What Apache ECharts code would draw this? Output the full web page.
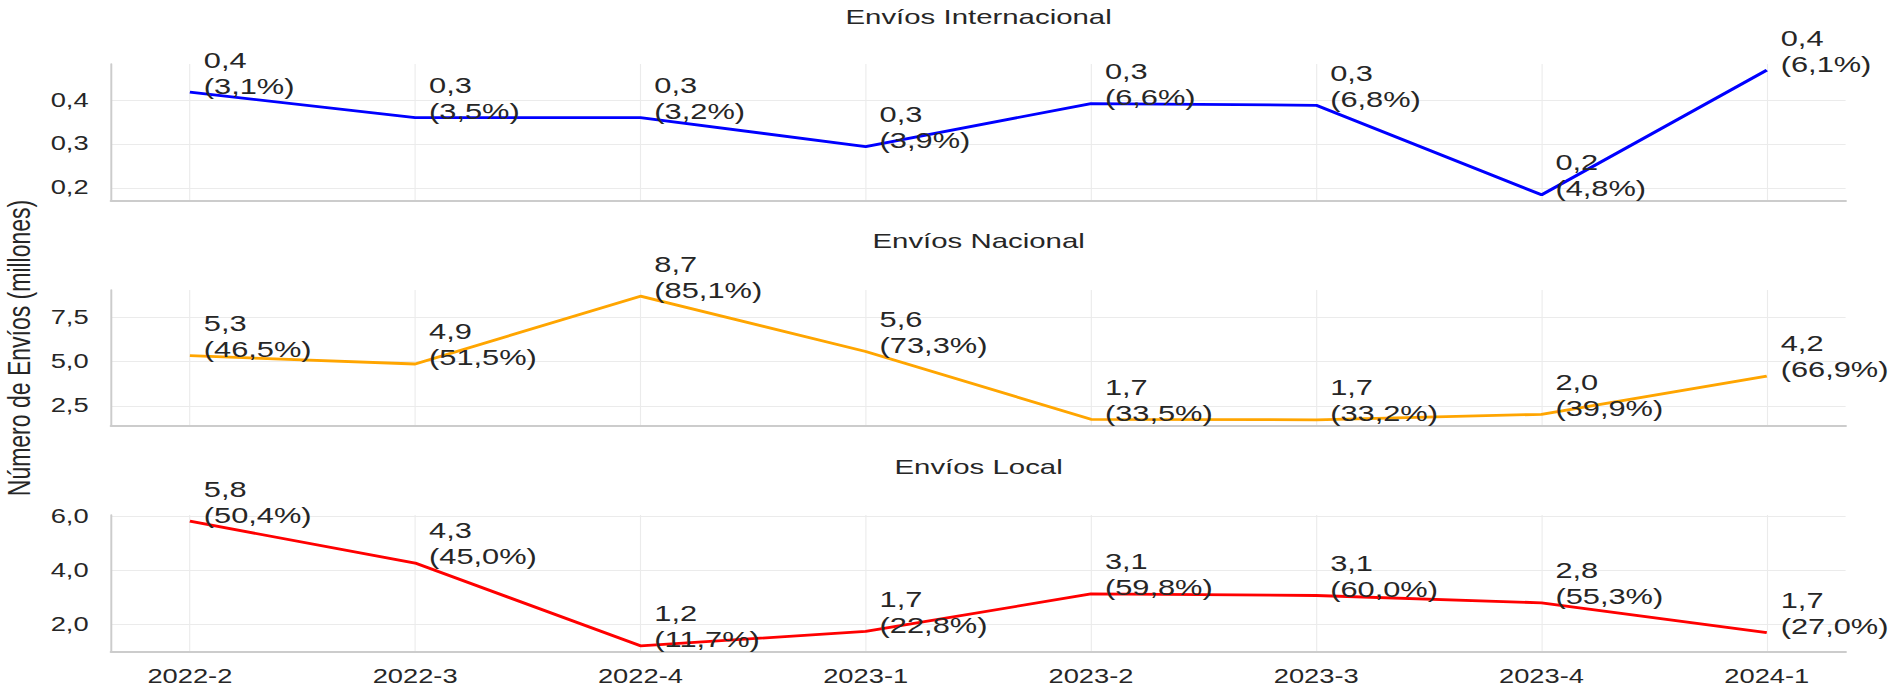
<!DOCTYPE html>
<html>
<head>
<meta charset="utf-8">
<script src="https://cdn.jsdelivr.net/npm/echarts@6/dist/echarts.min.js"></script>
<style>
  html, body { margin: 0; padding: 0; background: #fff; overflow: hidden; }
  /* la figura original está estirada en horizontal */
  #chart { width: 1357px; height: 690px; transform: scaleX(1.4); transform-origin: 0 0; }
</style>
</head>
<body>
<div id="chart"></div>
<script>
// datos por trimestre (millones de envíos)
const trimestres = ['2022-2', '2022-3', '2022-4', '2023-1', '2023-2', '2023-3', '2023-4', '2024-1'];

const enviosInternacional = [0.359, 0.330, 0.330, 0.297, 0.346, 0.344, 0.242, 0.384];
const enviosNacional = [5.34, 4.87, 8.71, 5.58, 1.74, 1.71, 2.02, 4.19];
const enviosLocal = [5.81, 4.26, 1.20, 1.73, 3.12, 3.06, 2.79, 1.69];

// porcentaje sobre el total del trimestre
const pctInternacional = [3.1, 3.5, 3.2, 3.9, 6.6, 6.8, 4.8, 6.1];
const pctNacional = [46.5, 51.5, 85.1, 73.3, 33.5, 33.2, 39.9, 66.9];
const pctLocal = [50.4, 45.0, 11.7, 22.8, 59.8, 60.0, 55.3, 27.0];

// marcas del eje y
const ticksInternacional = [0.25, 0.30, 0.35];
const etiquetasInternacional = ['0,2', '0,3', '0,4'];
const ticksNacional = [2.5, 5.0, 7.5];
const etiquetasNacional = ['2,5', '5,0', '7,5'];
const ticksLocal = [2.0, 4.0, 6.0];
const etiquetasLocal = ['2,0', '4,0', '6,0'];

const paneles = [
  { titulo: 'Envíos Internacional', valores: enviosInternacional, pct: pctInternacional,
    ticks: ticksInternacional, etiquetas: etiquetasInternacional, color: '#0000ff' },
  { titulo: 'Envíos Nacional', valores: enviosNacional, pct: pctNacional,
    ticks: ticksNacional, etiquetas: etiquetasNacional, color: '#ffa500' },
  { titulo: 'Envíos Local', valores: enviosLocal, pct: pctLocal,
    ticks: ticksLocal, etiquetas: etiquetasLocal, color: '#ff0000' }
];

const grids = [
  { top: 64, height: 137 },
  { top: 290, height: 136 },
  { top: 515, height: 137 }
];
const titulosTop = [6, 230, 456];

const TEXTO = '#262626';
const FUENTE = 'Liberation Sans';
const idx = trimestres.map((t, i) => i);

function coma(v) {
  return v.toFixed(1).replace('.', ',');
}

const option = {
  animation: false,
  backgroundColor: '#ffffff',
  textStyle: { fontFamily: FUENTE },
  title: paneles.map((p, i) => ({
    text: p.titulo,
    left: 699,
    top: titulosTop[i],
    textAlign: 'center',
    padding: 0,
    textStyle: { fontSize: 21, fontWeight: 'normal', color: TEXTO, fontFamily: FUENTE }
  })),
  grid: grids.map(g => ({
    left: 79.3, right: 38.7, top: g.top, height: g.height,
    containLabel: false, outerBoundsMode: 'none'
  })),
  xAxis: paneles.map((p, i) => ({
    type: 'value',
    gridIndex: i,
    min: -0.35,
    max: 7.35,
    axisLine: { show: true, onZero: false, lineStyle: { color: '#cccccc', width: 2 } },
    axisTick: { show: false, customValues: idx },
    axisLabel: {
      show: i === 2,
      customValues: idx,
      formatter: v => trimestres[Math.round(v)],
      fontSize: 19.5,
      color: TEXTO,
      margin: 14,
      fontFamily: FUENTE
    },
    splitLine: { show: true, lineStyle: { color: '#ebebeb', width: 0.8 } }
  })),
  yAxis: paneles.map((p, i) => {
    const lo = Math.min(...p.valores), hi = Math.max(...p.valores);
    const m = (hi - lo) * 0.05;
    return {
      type: 'value',
      gridIndex: i,
      min: lo - m,
      max: hi + m,
      name: i === 1 ? 'Número de Envíos (millones)' : '',
      nameLocation: 'middle',
      nameRotate: 90,
      nameGap: 46,
      nameTextStyle: { fontSize: 23, color: TEXTO, fontFamily: FUENTE, padding: [0, 0, 0, 20] },
      axisLine: { show: true, onZero: false, lineStyle: { color: '#cccccc', width: 1.4 } },
      axisTick: { show: false, customValues: p.ticks },
      axisLabel: {
        customValues: p.ticks,
        formatter: v => {
          const k = p.ticks.findIndex(t => Math.abs(t - v) < 1e-9);
          return k >= 0 ? p.etiquetas[k] : '';
        },
        fontSize: 19.5,
        color: TEXTO,
        margin: 16,
        fontFamily: FUENTE
      },
      splitLine: { show: true, lineStyle: { color: '#ebebeb', width: 1 } }
    };
  }),
  series: paneles.map((p, i) => ({
    type: 'line',
    name: p.titulo,
    xAxisIndex: i,
    yAxisIndex: i,
    data: p.valores.map((v, j) => [j, v]),
    symbol: 'circle',
    symbolSize: 0.1,
    showSymbol: true,
    itemStyle: { color: p.color },
    lineStyle: { color: p.color, width: 2.8 },
    label: {
      show: true,
      position: [10, 7],
      align: 'left',
      verticalAlign: 'bottom',
      fontSize: 22,
      lineHeight: 26,
      color: TEXTO,
      fontFamily: FUENTE,
      formatter: q => coma(q.value[1]) + '\n(' + coma(p.pct[q.dataIndex]) + '%)'
    },
    emphasis: { disabled: true }
  }))
};

const chart = echarts.init(document.getElementById('chart'), null, { renderer: 'svg' });
chart.setOption(option);
</script>
</body>
</html>
